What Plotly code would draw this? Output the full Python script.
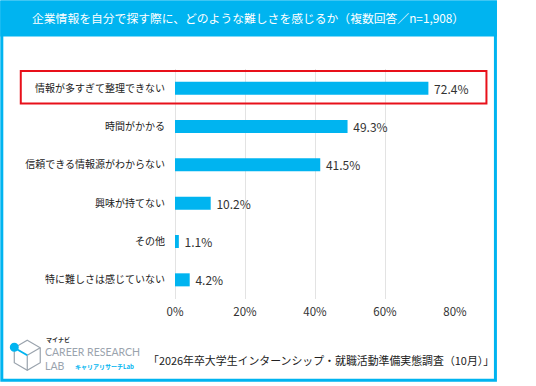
import plotly.graph_objects as go

# ---- data ----
categories = [
    "情報が多すぎて整理できない",
    "時間がかかる",
    "信頼できる情報源がわからない",
    "興味が持てない",
    "その他",
    "特に難しさは感じていない",
]
values = [72.4, 49.3, 41.5, 10.2, 1.1, 4.2]
x_ticks = [0, 20, 40, 60, 80]
x_tick_labels = ["0%", "20%", "40%", "60%", "80%"]

title_text = "企業情報を自分で探す際に、どのような難しさを感じるか（複数回答／n=1,908）"
source_text = "「2026年卒大学生インターンシップ・就職活動準備実態調査（10月）」"

BLUE = "#00B4F0"
JP = "Noto Sans CJK JP"

# ---- layout geometry (pixels) ----
WIDTH, HEIGHT = 536, 386
L, R, T, B = 175, 455.5, 68.5, 298.7
PW, PH = R - L, B - T


def px(x):
    return (x - L) / PW


def py(y):
    return (B - y) / PH


fig = go.Figure(
    go.Bar(
        x=values,
        y=categories,
        orientation="h",
        marker=dict(color=BLUE, line=dict(width=0)),
        texttemplate="\u00a0%{x:.1f}%",
        textposition="outside",
        constraintext="none",
        cliponaxis=False,
        textfont=dict(family=JP, size=12, color="#333333"),
        hoverinfo="skip",
    )
)

shapes = []
# header band
shapes.append(dict(type="rect", xref="paper", yref="paper",
                   x0=px(0), x1=px(497.5), y0=py(0), y1=py(36),
                   fillcolor=BLUE, line=dict(width=0), layer="below"))
# outer frame
shapes.append(dict(type="rect", xref="paper", yref="paper",
                   x0=px(1.5), x1=px(496), y0=py(1.5), y1=py(380),
                   fillcolor="rgba(0,0,0,0)", line=dict(color=BLUE, width=3)))
# red highlight box
shapes.append(dict(type="rect", xref="paper", yref="paper",
                   x0=px(20.5), x1=px(487), y0=py(70.5), y1=py(103),
                   fillcolor="rgba(0,0,0,0)", line=dict(color="#E8101A", width=2)))


# logo cube (decorative)
def path(points, close=False):
    s = "M " + " L ".join(f"{px(a)},{py(b)}" for a, b in points)
    return s + (" Z" if close else "")


hexpts = [(27, 340), (40, 347.5), (40, 362.5), (27, 370), (14, 362.5), (14, 347.5)]
shapes.append(dict(type="path", xref="paper", yref="paper",
                   path=path(hexpts, close=True),
                   line=dict(color="#9aa3ad", width=1.2)))
shapes.append(dict(type="path", xref="paper", yref="paper",
                   path=path([(27, 355), (40, 347.5)]),
                   line=dict(color="#9aa3ad", width=1.2)))
shapes.append(dict(type="path", xref="paper", yref="paper",
                   path=path([(27, 355), (27, 370)]),
                   line=dict(color="#9aa3ad", width=1.2)))
shapes.append(dict(type="path", xref="paper", yref="paper",
                   path=path([(14, 347.5), (27, 355)]),
                   line=dict(color=BLUE, width=2)))
shapes.append(dict(type="circle", xref="paper", yref="paper",
                   x0=px(9.5), x1=px(18.5), y0=py(342.5), y1=py(351.5),
                   fillcolor=BLUE, line=dict(width=0)))

annotations = [
    dict(text=title_text, xref="paper", yref="paper", x=px(248), y=py(17),
         xanchor="center", yanchor="middle", showarrow=False,
         font=dict(family=JP, size=11.8, color="#FFFFFF")),
    dict(text=source_text, xref="paper", yref="paper", x=px(146), y=py(360),
         xanchor="left", yanchor="middle", showarrow=False,
         font=dict(family=JP, size=10.9, color="#222222")),
    dict(text="<b>マイナビ</b>", xref="paper", yref="paper", x=px(44), y=py(339.5),
         xanchor="left", yanchor="middle", showarrow=False,
         font=dict(family=JP, size=6, color="#333333")),
    dict(text="CAREER RESEARCH", xref="paper", yref="paper", x=px(43), y=py(352),
         xanchor="left", yanchor="middle", showarrow=False,
         font=dict(family="Lato", size=10.5, color="#9aa3ad")),
    dict(text="LAB", xref="paper", yref="paper", x=px(43), y=py(366),
         xanchor="left", yanchor="middle", showarrow=False,
         font=dict(family="Lato", size=10.5, color="#9aa3ad")),
    dict(text="<b>キャリアリサーチLab</b>", xref="paper", yref="paper", x=px(73), y=py(366),
         xanchor="left", yanchor="middle", showarrow=False,
         font=dict(family=JP, size=6, color=BLUE)),
]

fig.update_layout(
    width=WIDTH,
    height=HEIGHT,
    margin=dict(l=L, r=WIDTH - R, t=T, b=HEIGHT - B, pad=0),
    paper_bgcolor="white",
    plot_bgcolor="white",
    showlegend=False,
    bargap=0.66,
    shapes=shapes,
    annotations=annotations,
    xaxis=dict(
        range=[0, 80],
        tickvals=x_ticks,
        ticktext=x_tick_labels,
        showgrid=True,
        gridcolor="#e3e3e3",
        gridwidth=1,
        zeroline=True,
        zerolinecolor="#e3e3e3",
        zerolinewidth=1,
        showline=False,
        ticks="",
        ticklabelstandoff=4,
        tickfont=dict(family=JP, size=11.5, color="#333333"),
        fixedrange=True,
    ),
    yaxis=dict(
        type="category",
        categoryorder="array",
        categoryarray=categories,
        range=[5.5, -0.5],
        showgrid=False,
        zeroline=False,
        showline=False,
        ticks="",
        ticklabelstandoff=9,
        tickfont=dict(family=JP, size=10, color="#222222"),
        fixedrange=True,
    ),
)

fig.write_html(
    "out.html",
    config={"displayModeBar": False},
    post_script="document.body.style.margin='0';document.body.style.overflow='hidden';",
)
